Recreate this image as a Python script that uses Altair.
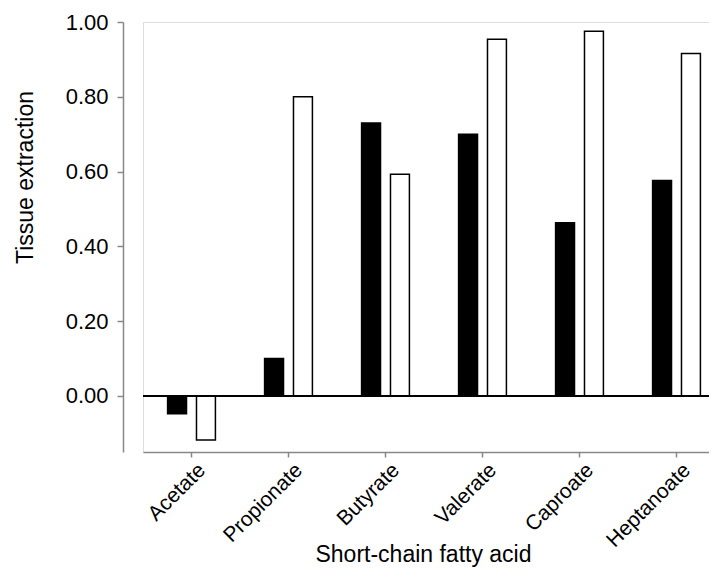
import altair as alt
import pandas as pd

categories = ["Acetate", "Propionate", "Butyrate", "Valerate", "Caproate", "Heptanoate"]
series_names = ["Black", "White"]
black_values = [-0.048, 0.10, 0.73, 0.70, 0.463, 0.576]
white_values = [-0.118, 0.80, 0.593, 0.954, 0.975, 0.916]
y_ticks = [0.0, 0.2, 0.4, 0.6, 0.8, 1.0]

rows = []
for c, b, w in zip(categories, black_values, white_values):
    rows.append({"acid": c, "series": series_names[0], "value": b})
    rows.append({"acid": c, "series": series_names[1], "value": w})
df = pd.DataFrame(rows)

FONT = "Liberation Sans"
XRANGE = 582

x_enc = alt.X(
    "acid:N",
    sort=categories,
    title="Short-chain fatty acid",
    scale=alt.Scale(range=[0, XRANGE], paddingInner=0.507, paddingOuter=0.2535),
    axis=alt.Axis(
        grid=False,
        labelAngle=-45,
        labelAlign="right",
        labelBaseline="top",
        labelFontSize=21,
        labelPadding=2,
        labelOffset=3,
        tickSize=5,
        tickWidth=1.5,
        domainWidth=1.5,
        titleFontSize=23,
        titleFontWeight="normal",
        titleBaseline="alphabetic",
        titleY=109,
        titleX=280,
    ),
)

y_scale = alt.Scale(domain=[-0.15, 1.0], nice=False, zero=False)

bars = alt.Chart(df).mark_bar(stroke="black", strokeWidth=1.5).encode(
    x=x_enc,
    xOffset=alt.XOffset("series:N", sort=series_names,
                        scale=alt.Scale(paddingInner=0.345, paddingOuter=0)),
    y=alt.Y(
        "value:Q",
        scale=y_scale,
        title="Tissue extraction",
        axis=alt.Axis(
            grid=False,
            values=y_ticks,
            format=".2f",
            offset=20,
            labelFontSize=22,
            labelPadding=9,
            tickSize=6,
            tickWidth=1.5,
            domainWidth=1.5,
            titleFontSize=23,
            titleFontWeight="normal",
            titleBaseline="alphabetic",
            titleX=-91,
            titleY=155,
        ),
    ),
    fill=alt.Fill("series:N", scale=alt.Scale(domain=series_names, range=["black", "white"]), legend=None),
)

zero_rule = alt.Chart(df).mark_rule(color="black", strokeWidth=1.5).encode(
    y=alt.datum(0, scale=y_scale),
    x=alt.value(0),
    x2=alt.value(XRANGE),
)

chart = alt.layer(bars, zero_rule).properties(
    width=566,
    height=430,
    autosize=alt.AutoSizeParams(type="none"),
    padding={"left": 135, "top": 14, "right": 0, "bottom": 116},
).configure_view(stroke="transparent", strokeWidth=0).configure_axis(
    grid=False,
    labelFont=FONT,
    titleFont=FONT,
    labelColor="black",
    titleColor="black",
    domainColor="black",
    tickColor="black",
).configure(font=FONT)

chart.save("out.html", embed_options={"renderer": "svg", "actions": False})
